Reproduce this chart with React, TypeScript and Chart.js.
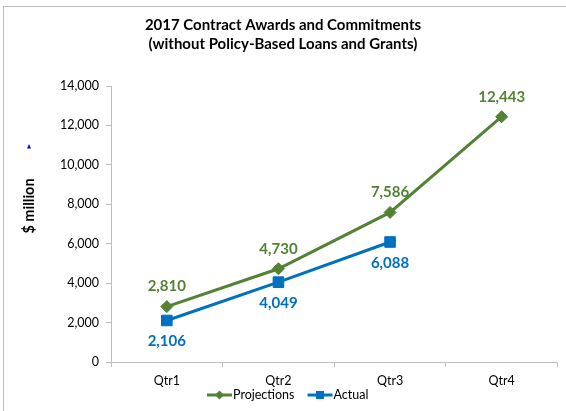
import React, { useEffect, useRef } from "react";
import { Chart, registerables } from "chart.js";

Chart.register(...registerables);

const titleLines = ["2017 Contract Awards and Commitments", "(without Policy-Based Loans and Grants)"];
const yAxisTitle = "$ million";
const categories = ["Qtr1", "Qtr2", "Qtr3", "Qtr4"];
const projections = [2810, 4730, 7586, 12443];
const actual: (number | null)[] = [2106, 4049, 6088, null];
const yMin = 0;
const yMax = 14000;
const yStep = 2000;

const GREEN = "#548235";
const BLUE = "#0070C0";
const AXIS = "#BFBFBF";
const FONT = "Lato, 'Open Sans', sans-serif";

const fmt = (v: number) => v.toLocaleString("en-US");

const decorPlugin = {
  id: "decor",
  beforeDraw(chart: any) {
    const ctx = chart.ctx;
    ctx.save();
    ctx.fillStyle = "#ffffff";
    ctx.fillRect(0, 0, chart.width, chart.height);
    ctx.strokeStyle = "#BDBDBD";
    ctx.lineWidth = 1;
    ctx.strokeRect(3.5, 6.5, 700, 600);
    ctx.restore();
  },
  afterDatasetsDraw(chart: any) {
    const ctx = chart.ctx;
    ctx.save();
    ctx.font = `bold 15px ${FONT}`;
    ctx.textAlign = "center";
    ctx.textBaseline = "middle";
    chart.data.datasets.forEach((ds: any, i: number) => {
      const meta = chart.getDatasetMeta(i);
      const above = i === 0;
      ds.data.forEach((v: number | null, j: number) => {
        if (v == null) return;
        const el = meta.data[j];
        ctx.fillStyle = ds.borderColor;
        ctx.fillText(fmt(v), el.x, el.y + (above ? -20 : 21));
      });
    });
    ctx.restore();
  },
  afterDraw(chart: any) {
    const ctx = chart.ctx;
    ctx.save();
    // title
    ctx.fillStyle = "#000";
    ctx.font = `bold 15px ${FONT}`;
    ctx.textAlign = "center";
    ctx.textBaseline = "middle";
    ctx.fillText(titleLines[0], 283, 25);
    ctx.fillText(titleLines[1], 283, 44);
    // y axis title
    ctx.save();
    ctx.translate(29, 206);
    ctx.rotate(-Math.PI / 2);
    ctx.font = `bold 14.5px ${FONT}`;
    ctx.fillText(yAxisTitle, 0, 0);
    ctx.restore();
    // small blue mark
    ctx.fillStyle = "#0000FF";
    ctx.beginPath();
    ctx.moveTo(27, 148.5);
    ctx.lineTo(29, 144);
    ctx.lineTo(31, 148.5);
    ctx.closePath();
    ctx.fill();
    // legend
    ctx.font = `12.5px ${FONT}`;
    ctx.textAlign = "left";
    const items = chart.data.datasets.map((ds: any) => ({
      label: ds.label,
      color: ds.borderColor,
      style: ds.pointStyle,
    }));
    const y = 395;
    let x = 207;
    items.forEach((it: any) => {
      ctx.strokeStyle = it.color;
      ctx.fillStyle = it.color;
      ctx.lineWidth = 3;
      ctx.beginPath();
      ctx.moveTo(x, y);
      ctx.lineTo(x + 25, y);
      ctx.stroke();
      const cx = x + 12.5;
      ctx.beginPath();
      if (it.style === "rectRot") {
        ctx.moveTo(cx, y - 4.5);
        ctx.lineTo(cx + 4.5, y);
        ctx.lineTo(cx, y + 4.5);
        ctx.lineTo(cx - 4.5, y);
      } else {
        ctx.rect(cx - 4, y - 4, 8, 8);
      }
      ctx.closePath();
      ctx.fill();
      ctx.fillStyle = "#000";
      ctx.fillText(it.label, x + 26, y);
      x += 26 + ctx.measureText(it.label).width + 13;
    });
    ctx.restore();
  },
};

export default function App() {
  const ref = useRef<HTMLCanvasElement | null>(null);
  useEffect(() => {
    if (!ref.current) return;
    Chart.defaults.font.family = FONT;
    const chart = new Chart(ref.current, {
      type: "line",
      data: {
        labels: categories,
        datasets: [
          {
            label: "Projections",
            data: projections,
            borderColor: GREEN,
            backgroundColor: GREEN,
            borderWidth: 3,
            pointStyle: "rectRot",
            pointRadius: 6,
            pointBorderWidth: 1,
            pointBackgroundColor: GREEN,
            pointBorderColor: GREEN,
            tension: 0,
          },
          {
            label: "Actual",
            data: actual,
            borderColor: BLUE,
            backgroundColor: BLUE,
            borderWidth: 3,
            pointStyle: "rect",
            pointRadius: 7.5,
            pointBorderWidth: 1,
            pointBackgroundColor: BLUE,
            pointBorderColor: BLUE,
            tension: 0,
          },
        ],
      },
      options: {
        responsive: false,
        animation: false,
        layout: { padding: { top: 86, right: 7, left: 0, bottom: 0 } },
        plugins: {
          legend: { display: false },
          title: { display: false },
          tooltip: { enabled: false },
        },
        scales: {
          x: {
            type: "category",
            offset: true,
            grid: {
              offset: true,
              drawOnChartArea: false,
              drawTicks: true,
              tickLength: 5,
              color: AXIS,
            },
            border: { color: AXIS, width: 1 },
            ticks: { color: "#000", font: { size: 12.5, family: FONT }, padding: 6, maxRotation: 0 },
            afterFit: (s: any) => {
              s.height = 49;
            },
          },
          y: {
            min: yMin,
            max: yMax,
            grid: {
              drawOnChartArea: false,
              drawTicks: true,
              tickLength: 5,
              color: AXIS,
            },
            border: { color: AXIS, width: 1 },
            ticks: {
              stepSize: yStep,
              color: "#000",
              font: { size: 12.5, family: FONT },
              padding: 7,
              callback: (v: any) => fmt(Number(v)),
            },
            afterFit: (s: any) => {
              s.width = 111;
            },
          },
        },
      },
      plugins: [decorPlugin],
    } as any);
    return () => chart.destroy();
  }, []);
  return (
    <div style={{ position: "fixed", left: 0, top: 0, width: 566, height: 411, background: "#fff" }}>
      <canvas ref={ref} width={566} height={411} style={{ display: "block" }} />
    </div>
  );
}
